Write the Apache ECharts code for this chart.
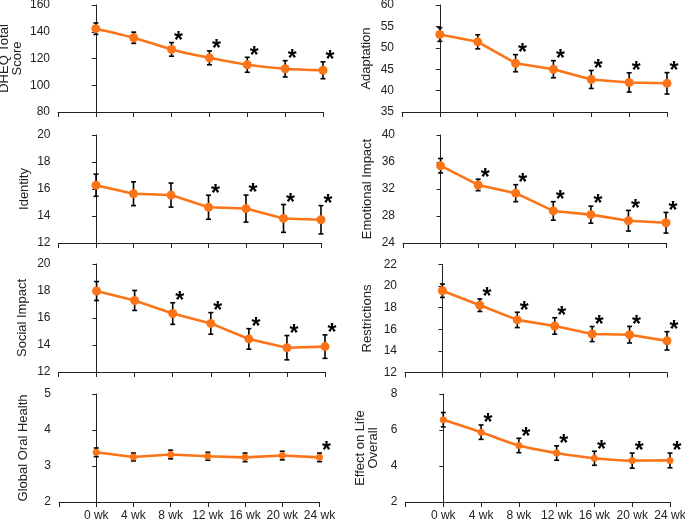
<!DOCTYPE html>
<html>
<head>
<meta charset="utf-8">
<script src="https://cdn.jsdelivr.net/npm/echarts@6/dist/echarts.min.js"></script>
<style>
html,body{margin:0;padding:0;background:#fff;}
#chart{width:685px;height:521px;}
</style>
</head>
<body>
<div id="chart"></div>
<script>
// ---- data ----
const weeks = [0, 4, 8, 12, 16, 20, 24];
const weekLabels = ['0 wk', '4 wk', '8 wk', '12 wk', '16 wk', '20 wk', '24 wk'];

const dheqMean = [142.3, 135.5, 126.8, 120.5, 115.3, 112.3, 111.2];
const dheqErr  = [4.3, 4.2, 5.1, 5.2, 5.6, 6.1, 6.3];
const dheqStar = [0, 0, 1, 1, 1, 1, 1];
const dheqTicks = [80, 160, 20];

const adaptMean = [53.1, 51.4, 46.4, 45.0, 42.6, 41.9, 41.7];
const adaptErr  = [1.6, 1.65, 2.0, 2.0, 2.1, 2.25, 2.5];
const adaptStar = [0, 0, 1, 1, 1, 1, 1];
const adaptTicks = [35, 60, 5];

const identMean = [16.28, 15.65, 15.55, 14.65, 14.55, 13.82, 13.72];
const identErr  = [0.82, 0.88, 0.89, 0.89, 1.0, 1.03, 1.05];
const identStar = [0, 0, 0, 1, 1, 1, 1];
const identTicks = [12, 20, 2];

const emotMean = [35.45, 32.6, 31.38, 28.75, 28.2, 27.3, 27.0];
const emotErr  = [1.07, 0.85, 1.26, 1.37, 1.26, 1.53, 1.53];
const emotStar = [0, 1, 1, 1, 1, 1, 1];
const emotTicks = [24, 40, 4];

const socMean = [18.0, 17.3, 16.33, 15.6, 14.45, 13.8, 13.88];
const socErr  = [0.7, 0.74, 0.8, 0.8, 0.76, 0.9, 0.87];
const socStar = [0, 0, 1, 1, 1, 1, 1];
const socTicks = [12, 20, 2];

const restMean = [19.57, 18.23, 16.87, 16.31, 15.56, 15.5, 14.93];
const restErr  = [0.62, 0.58, 0.71, 0.76, 0.7, 0.77, 0.85];
const restStar = [0, 1, 1, 1, 1, 1, 1];
const restTicks = [12, 22, 2];

const gohMean = [3.38, 3.25, 3.32, 3.27, 3.24, 3.29, 3.24];
const gohErr  = [0.12, 0.11, 0.12, 0.11, 0.12, 0.12, 0.12];
const gohStar = [0, 0, 0, 0, 0, 0, 1];
const gohTicks = [2, 5, 1];

const effMean = [6.57, 5.88, 5.14, 4.72, 4.43, 4.3, 4.31];
const effErr  = [0.4, 0.4, 0.4, 0.4, 0.39, 0.42, 0.41];
const effStar = [0, 1, 1, 1, 1, 1, 1];
const effTicks = [2, 8, 2];

// ---- layout / style ----
const panels = [
  {name: 'DHEQ Total\nScore', mean: dheqMean, err: dheqErr, star: dheqStar, ticks: dheqTicks,
   grid: {left: 58, right: 362, top: 5, height: 107}, gap: 34, smooth: 0.3, sym: 9, xl: false},
  {name: 'Adaptation', mean: adaptMean, err: adaptErr, star: adaptStar, ticks: adaptTicks,
   grid: {left: 402, right: 18, top: 5, height: 107}, gap: 29, smooth: 0, sym: 9, xl: false},
  {name: 'Identity', mean: identMean, err: identErr, star: identStar, ticks: identTicks,
   grid: {left: 58.5, right: 364, top: 135, height: 108}, gap: 28, smooth: 0, sym: 9, xl: false},
  {name: 'Emotional Impact', mean: emotMean, err: emotErr, star: emotStar, ticks: emotTicks,
   grid: {left: 403, right: 19, top: 135, height: 108}, gap: 29, smooth: 0, sym: 9, xl: false},
  {name: 'Social Impact', mean: socMean, err: socErr, star: socStar, ticks: socTicks,
   grid: {left: 58.5, right: 360, top: 264, height: 108}, gap: 30, smooth: 0, sym: 9, xl: false},
  {name: 'Restrictions', mean: restMean, err: restErr, star: restStar, ticks: restTicks,
   grid: {left: 405, right: 18, top: 264.5, height: 108}, gap: 31, smooth: 0, sym: 9, xl: false},
  {name: 'Global Oral Health', mean: gohMean, err: gohErr, star: gohStar, ticks: gohTicks,
   grid: {left: 59, right: 365.5, top: 394, height: 108}, gap: 29, smooth: 0, sym: 7, xl: true},
  {name: 'Effect on Life\nOverall', mean: effMean, err: effErr, star: effStar, ticks: effTicks,
   grid: {left: 405.5, right: 15, top: 394, height: 108}, gap: 26, smooth: 0.3, sym: 7, xl: true}
];

const ORANGE = '#FB7417';
const TXT = '#222';
const FONT = '"Liberation Sans", Arial, sans-serif';

const grids = [], xAxes = [], yAxes = [], series = [];
panels.forEach((p, i) => {
  grids.push(Object.assign({outerBoundsMode: 'none', containLabel: false}, p.grid));
  xAxes.push({
    type: 'value', gridIndex: i, min: -4, max: 24, interval: 4,
    axisLine: {show: true, lineStyle: {color: '#222', width: 1}},
    axisTick: {show: true, inside: false, length: 5, lineStyle: {color: '#222'}},
    splitLine: {show: false},
    axisLabel: {show: p.xl, margin: 8, color: TXT, fontSize: 12, fontFamily: FONT,
      formatter: v => { const k = weeks.indexOf(v); return k < 0 ? '' : weekLabels[k]; }}
  });
  yAxes.push({
    type: 'value', gridIndex: i, min: p.ticks[0], max: p.ticks[1], interval: p.ticks[2],
    name: p.name, nameLocation: 'middle', nameGap: p.gap, nameRotate: 90,
    nameTextStyle: {color: TXT, fontSize: 13, fontFamily: FONT, lineHeight: 13},
    axisLine: {show: true, lineStyle: {color: '#222', width: 1}},
    axisTick: {show: true, inside: false, length: 4, lineStyle: {color: '#222'}},
    splitLine: {show: false},
    axisLabel: {margin: 8, color: TXT, fontSize: 12, fontFamily: FONT, showMinLabel: true, showMaxLabel: true}
  });
  const errData = weeks.map((w, k) => [w, p.mean[k], p.err[k], p.star[k]]);
  series.push({
    type: 'custom', xAxisIndex: i, yAxisIndex: i, z: 1, silent: true,
    data: errData,
    encode: {x: 0, y: 1},
    renderItem: (params, api) => {
      const x = api.value(0), m = api.value(1), e = api.value(2), s = api.value(3);
      const t = api.coord([x, m + e]);
      const b = api.coord([x, m - e]);
      const cw = 2.5;
      const ls = {stroke: '#000', lineWidth: 1.6};
      const ch = [
        {type: 'line', shape: {x1: t[0], y1: t[1], x2: b[0], y2: b[1]}, style: ls},
        {type: 'line', shape: {x1: t[0] - cw, y1: t[1], x2: t[0] + cw, y2: t[1]}, style: ls},
        {type: 'line', shape: {x1: b[0] - cw, y1: b[1], x2: b[0] + cw, y2: b[1]}, style: ls}
      ];
      if (s) {
        ch.push({type: 'text', x: t[0] + 7, y: t[1] - 1,
          style: {text: '*', fill: '#000', fontSize: 23, fontWeight: 'bold', fontFamily: FONT,
            align: 'center', verticalAlign: 'middle'}});
      }
      return {type: 'group', children: ch};
    }
  });
  series.push({
    type: 'line', xAxisIndex: i, yAxisIndex: i, z: 5,
    data: weeks.map((w, k) => [w, p.mean[k]]),
    smooth: p.smooth, symbol: 'circle', symbolSize: p.sym, showSymbol: true,
    lineStyle: {color: ORANGE, width: 2.6},
    itemStyle: {color: ORANGE},
    emphasis: {disabled: true}
  });
});

const chart = echarts.init(document.getElementById('chart'), null, {renderer: 'canvas'});
chart.setOption({
  animation: false,
  backgroundColor: '#fff',
  grid: grids, xAxis: xAxes, yAxis: yAxes, series: series
});
</script>
</body>
</html>
